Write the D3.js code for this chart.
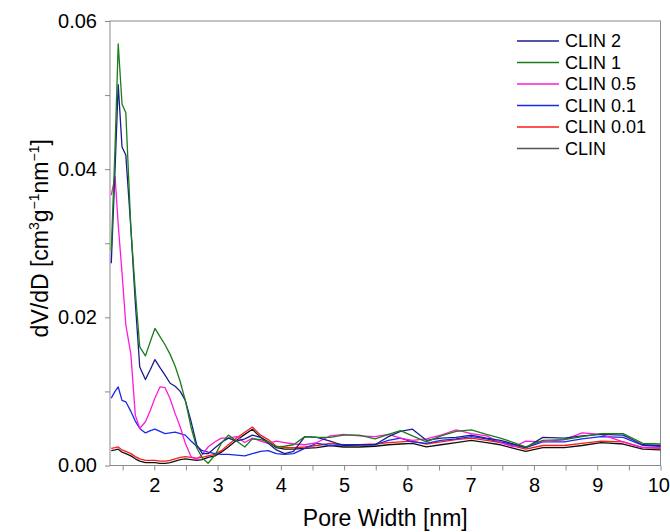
<!DOCTYPE html>
<html>
<head>
<meta charset="utf-8">
<script src="https://cdn.jsdelivr.net/npm/d3@7/dist/d3.min.js"></script>
<style>
  html, body { margin: 0; padding: 0; background: #fff; }
  svg { display: block; font-family: "Liberation Sans", Arial, sans-serif; }
</style>
</head>
<body>
<svg id="chart" width="670" height="532"></svg>
<script>
// Pore width grid (nm)
const poreWidth = [1.32, 1.38, 1.43, 1.49, 1.55, 1.63, 1.70, 1.77, 1.86, 1.94,
  2.01, 2.09, 2.17, 2.25, 2.33, 2.41, 2.49, 2.58, 2.67, 2.76,
  2.85, 2.96, 3.06, 3.17, 3.30, 3.43, 3.55, 3.68, 3.80, 3.93,
  4.06, 4.20, 4.38, 4.57, 4.78, 4.99, 5.24, 5.49, 5.70, 5.89,
  6.08, 6.30, 6.53, 6.77, 7.01, 7.25, 7.47, 7.68, 7.87, 8.14,
  8.48, 8.76, 9.06, 9.41, 9.72, 10.0];

// dV/dD for each sample (cm3 g-1 nm-1)
const clin2 = [0.0273, 0.0400, 0.0514, 0.0430, 0.0419, 0.0320, 0.0220, 0.0133, 0.0116, 0.0130,
  0.0143, 0.0132, 0.0122, 0.0111, 0.0107, 0.0100, 0.0088, 0.0060, 0.0028, 0.0016,
  0.0016, 0.0024, 0.0031, 0.0037, 0.0033, 0.0036, 0.0041, 0.0038, 0.0030, 0.0021,
  0.0016, 0.0019, 0.0039, 0.0038, 0.0033, 0.0027, 0.0028, 0.0028, 0.0039, 0.0046,
  0.0049, 0.0034, 0.0037, 0.0038, 0.0041, 0.0037, 0.0034, 0.0029, 0.0024, 0.0038,
  0.0037, 0.0040, 0.0042, 0.0041, 0.0028, 0.0027];

const clin1 = [0.0290, 0.0430, 0.0569, 0.0488, 0.0476, 0.0320, 0.0235, 0.0160, 0.0148, 0.0168,
  0.0185, 0.0174, 0.0163, 0.0150, 0.0134, 0.0113, 0.0088, 0.0052, 0.0024, 0.0010,
  0.0003, 0.0014, 0.0030, 0.0041, 0.0033, 0.0025, 0.0036, 0.0035, 0.0032, 0.0025,
  0.0026, 0.0028, 0.0039, 0.0038, 0.0038, 0.0041, 0.0041, 0.0036, 0.0042, 0.0047,
  0.0040, 0.0032, 0.0040, 0.0046, 0.0048, 0.0042, 0.0037, 0.0031, 0.0025, 0.0034,
  0.0035, 0.0039, 0.0043, 0.0043, 0.0030, 0.0029];

const clin05 = [0.0365, 0.0390, 0.0325, 0.0260, 0.0190, 0.0150, 0.0068, 0.0050, 0.0059, 0.0075,
  0.0091, 0.0106, 0.0105, 0.0090, 0.0070, 0.0052, 0.0030, 0.0012, 0.0008, 0.0015,
  0.0025, 0.0032, 0.0037, 0.0037, 0.0039, 0.0031, 0.0037, 0.0033, 0.0030, 0.0033,
  0.0031, 0.0029, 0.0028, 0.0031, 0.0040, 0.0042, 0.0040, 0.0039, 0.0042, 0.0037,
  0.0034, 0.0036, 0.0041, 0.0048, 0.0043, 0.0040, 0.0031, 0.0025, 0.0033, 0.0032,
  0.0035, 0.0044, 0.0042, 0.0032, 0.0024, 0.0024];

const clin01 = [0.0091, 0.0100, 0.0106, 0.0088, 0.0086, 0.0073, 0.0060, 0.0050, 0.0044, 0.0047,
  0.0049, 0.0046, 0.0043, 0.0044, 0.0045, 0.0043, 0.0041, 0.0033, 0.0026, 0.0020,
  0.0018, 0.0016, 0.0015, 0.0015, 0.0014, 0.0013, 0.0016, 0.0019, 0.0020, 0.0016,
  0.0015, 0.0016, 0.0023, 0.0030, 0.0027, 0.0028, 0.0028, 0.0028, 0.0034, 0.0037,
  0.0032, 0.0030, 0.0034, 0.0036, 0.0039, 0.0036, 0.0032, 0.0028, 0.0024, 0.0032,
  0.0032, 0.0036, 0.0039, 0.0038, 0.0027, 0.0026];

const clin001 = [0.0023, 0.0024, 0.0025, 0.0021, 0.0019, 0.0016, 0.0012, 0.0009, 0.0007, 0.0007,
  0.0007, 0.0006, 0.0006, 0.0007, 0.0009, 0.0011, 0.0012, 0.0011, 0.0010, 0.0011,
  0.0013, 0.0015, 0.0020, 0.0028, 0.0037, 0.0045, 0.0052, 0.0041, 0.0035, 0.0026,
  0.0024, 0.0024, 0.0025, 0.0027, 0.0030, 0.0028, 0.0028, 0.0029, 0.0031, 0.0032,
  0.0033, 0.0029, 0.0032, 0.0035, 0.0037, 0.0034, 0.0031, 0.0026, 0.0022, 0.0027,
  0.0027, 0.0030, 0.0033, 0.0032, 0.0024, 0.0023];

const clin = [0.0020, 0.0021, 0.0022, 0.0018, 0.0016, 0.0013, 0.0009, 0.0006, 0.0004, 0.0004,
  0.0004, 0.0003, 0.0003, 0.0004, 0.0006, 0.0008, 0.0009, 0.0008, 0.0007, 0.0008,
  0.0011, 0.0013, 0.0018, 0.0025, 0.0034, 0.0042, 0.0049, 0.0038, 0.0032, 0.0024,
  0.0022, 0.0022, 0.0023, 0.0024, 0.0027, 0.0025, 0.0025, 0.0026, 0.0028, 0.0029,
  0.0030, 0.0025, 0.0028, 0.0031, 0.0034, 0.0031, 0.0028, 0.0023, 0.0019, 0.0024,
  0.0024, 0.0027, 0.0031, 0.0029, 0.0022, 0.0021];

const seriesNames = ["CLIN 2", "CLIN 1", "CLIN 0.5", "CLIN 0.1", "CLIN 0.01", "CLIN"];
const seriesValues = [clin2, clin1, clin05, clin01, clin001, clin];
const seriesColors = ["#1c1c8e", "#1a7d1a", "#ff1ad9", "#1a2ae6", "#ff1a1a", "#111111"];

const xTicks = [2, 3, 4, 5, 6, 7, 8, 9, 10];
const yTicks = [0, 0.02, 0.04, 0.06];

const svg = d3.select("#chart");
const m = { left: 110, right: 660.5, top: 21, bottom: 465.5 };

const x = d3.scaleLinear().domain([1.3, 10]).range([m.left, m.right]);
const y = d3.scaleLinear().domain([0, 0.06]).range([m.bottom, m.top]);

const axisColor = "#8a8a8a";

// minor ticks
const xMinor = d3.range(1.5, 10, 1);
const yMinor = [0.01, 0.03, 0.05];

const gx = svg.append("g").attr("transform", `translate(0,${m.bottom})`);
gx.call(d3.axisBottom(x).tickValues(xTicks).tickFormat(d3.format("d")).tickSize(5).tickPadding(7));
gx.append("g").call(d3.axisBottom(x).tickValues(xMinor).tickFormat("").tickSize(5));

const gy = svg.append("g").attr("transform", `translate(${m.left},0)`);
gy.call(d3.axisLeft(y).tickValues(yTicks).tickFormat(d3.format(".2f")).tickSize(5).tickPadding(8));
gy.append("g").call(d3.axisLeft(y).tickValues(yMinor).tickFormat("").tickSize(5));

svg.selectAll(".domain").remove();
svg.selectAll(".tick line").attr("stroke", axisColor).attr("stroke-width", 1);
svg.selectAll(".tick text").attr("fill", "#000").style("font-size", "20px")
  .style("font-family", '"Liberation Sans", Arial, sans-serif');

// keep the last x label inside the canvas
gx.selectAll(".tick").filter(d => d === 10).select("text")
  .attr("text-anchor", "end").attr("x", 9);

// frame
svg.append("rect")
  .attr("x", m.left).attr("y", m.top)
  .attr("width", m.right - m.left).attr("height", m.bottom - m.top)
  .attr("fill", "none").attr("stroke", axisColor).attr("stroke-width", 1);

// curves
const line = d3.line()
  .x((d, i) => x(poreWidth[i]))
  .y(d => y(d));

const plot = svg.append("g");
const order = [5, 4, 3, 2, 0, 1];
order.forEach(k => {
  plot.append("path")
    .datum(seriesValues[k])
    .attr("fill", "none")
    .attr("stroke", seriesColors[k])
    .attr("stroke-width", 1.3)
    .attr("stroke-linejoin", "round")
    .attr("d", line);
});

// legend
const legend = svg.append("g").attr("transform", "translate(517,41)");
seriesNames.forEach((name, i) => {
  const row = legend.append("g").attr("transform", `translate(0,${i * 21.5})`);
  row.append("line").attr("x1", 0).attr("x2", 42).attr("y1", 0).attr("y2", 0)
    .attr("stroke", i === 5 ? "#555" : seriesColors[i]).attr("stroke-width", 1.3);
  row.append("text").attr("x", 48).attr("y", 0).attr("dy", "0.35em")
    .style("font-size", "18px").text(name);
});

// axis titles
svg.append("text")
  .attr("x", (m.left + m.right) / 2).attr("y", 526)
  .attr("text-anchor", "middle").style("font-size", "23px")
  .text("Pore Width [nm]");

const yt = svg.append("text")
  .attr("transform", `translate(48,${(m.top + m.bottom) / 2 - 5}) rotate(-90)`)
  .attr("text-anchor", "middle").style("font-size", "23px");
yt.append("tspan").text("dV/dD [cm");
yt.append("tspan").attr("dy", -9).style("font-size", "14px").text("3");
yt.append("tspan").attr("dy", 9).text("g");
yt.append("tspan").attr("dy", -9).style("font-size", "14px").text("\u22121");
yt.append("tspan").attr("dy", 9).text("nm");
yt.append("tspan").attr("dy", -9).style("font-size", "14px").text("\u22121");
yt.append("tspan").attr("dy", 9).text("]");
</script>
</body>
</html>
